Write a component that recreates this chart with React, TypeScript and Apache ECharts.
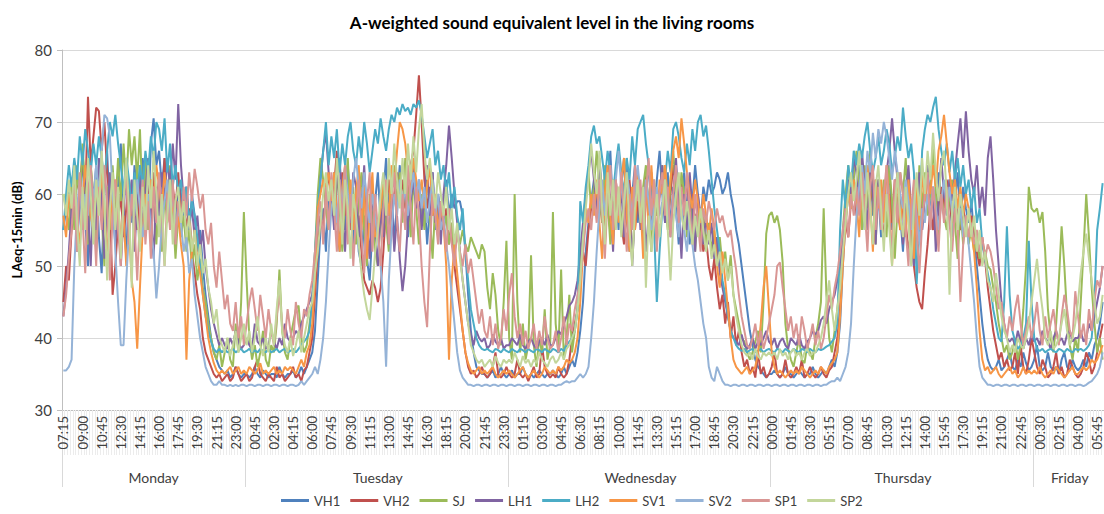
import React, { useEffect, useRef } from "react";
import * as echarts from "echarts";

const TITLE = "A-weighted sound equivalent level in the living rooms";
const Y_NAME = "LAeq-15min (dB)";
const DAYS = ["Monday", "Tuesday", "Wednesday", "Thursday", "Friday"];
const DAY_FIRST_SLOT = [29, 0, 0, 0, 0]; // first 15-min slot of each day (29 = 07:15)
const DAY_SLOT_COUNT = [67, 96, 96, 96, 26];
const Y_TICKS = [30, 40, 50, 60, 70, 80];
const NAMES = ["VH1", "VH2", "SJ", "LH1", "LH2", "SV1", "SV2", "SP1", "SP2"];
const COLORS = ["#4F81BD", "#C0504D", "#9BBB59", "#8064A2", "#4BACC6", "#F79646", "#95B3D7", "#D99694", "#C3D69B"];

const VH1 = [
  55, 58, 61,
  57, 63, 52, 60, 65, 56, 50, 61,
  59, 64, 54, 49, 60, 66, 57, 62,
  55, 61, 67, 58, 51, 62, 56, 64,
  60, 53, 65, 61, 56, 67, 70.5, 64,
  66, 61, 65, 57, 63, 60, 55, 62,
  60, 56, 61, 54, 60, 57, 52, 55,
  50, 46, 43, 40, 38, 37, 36, 35.5,
  35, 35.5, 34.5, 35, 36, 35, 34.5, 35,
  // Tue
  35, 34.5, 35, 36, 35, 34.5, 35.5, 35,
  34.5, 35, 35, 34.5, 36, 35, 34.5, 35,
  35, 35.5, 34.5, 35, 36, 35, 36, 37,
  38, 41, 48, 55, 58, 52, 60, 57,
  63, 57, 52, 61, 55, 64, 58, 53,
  60, 52, 50, 57, 51, 48, 55, 59,
  63, 56, 60, 65, 57, 61, 53, 59,
  64, 57, 61, 54, 60, 65, 58, 62,
  56, 60, 53, 58, 63, 55, 60, 57,
  59, 62, 57, 60, 58, 59, 59, 57,
  52, 46, 41, 38, 36, 35.5, 35, 35,
  34.5, 35, 35.5, 34.5, 35, 36, 35, 34.5,
  // Wed
  35, 35.5, 34.5, 35, 35, 36, 35, 34.5,
  35, 34.5, 35, 35.5, 35, 34.5, 35, 35,
  35.5, 35, 34.5, 35, 36, 35, 36, 37,
  36, 38, 41, 45, 52, 56, 59, 62,
  58, 64, 60, 54, 61, 66, 57, 62,
  55, 61, 65, 57, 52, 60, 64, 56,
  61, 54, 59, 64, 60, 55, 62, 66,
  60, 56, 63, 55, 61, 58, 53, 60,
  63, 57, 53, 59, 64, 60, 56, 61,
  59, 62, 60, 61, 63, 62, 60, 61,
  63, 60, 58, 55, 53, 50, 47, 44,
  41, 39, 37, 36, 35.5, 35, 34.5, 35,
  // Thu
  35, 35.5, 35, 34.5, 35, 36, 35, 35,
  34.5, 35, 35.5, 35, 34.5, 35, 35, 36,
  35, 34.5, 35, 35.5, 35, 36, 37, 36,
  38, 42, 50, 56, 60, 58, 62, 59,
  64, 59, 55, 61, 65, 57, 62, 60,
  54, 61, 58, 64, 55, 60, 63, 57,
  52, 59, 63, 56, 50, 58, 62, 55,
  60, 64, 57, 61, 55, 63, 59, 60,
  57, 62, 54, 59, 63, 56, 61, 58,
  56, 59, 54, 50, 46, 42, 39, 37,
  36, 35.5, 36, 37, 35.5, 36, 37, 38,
  36, 35.5, 37, 36, 38, 36.5, 35.5, 36,
  // Fri
  37, 39, 36, 35.5, 36, 38, 36, 35.5,
  36, 35, 37, 38, 36, 35.5, 37, 36,
  35.5, 36, 37, 36, 38, 37, 39, 40,
  42, 45,
];

const VH2 = [
  45, 50, 48,
  55, 58, 62, 60, 66, 59, 73.5, 64,
  68, 72, 71.5, 66, 70, 63, 59, 46,
  50, 56, 60, 54, 58, 62, 57, 60,
  55, 61, 58, 64, 60, 57, 63, 59,
  62, 58, 65, 60, 56, 61, 58, 63,
  57, 60, 55, 58, 52, 49, 46, 44,
  40, 38, 37, 36, 35, 34.5, 35, 34,
  34.5, 35, 34, 34.5, 36, 35, 34, 34.5,
  // Tue
  35, 34, 34.5, 36, 37, 35, 34.5, 34,
  35, 34.5, 34, 36, 34.5, 35, 34, 34.5,
  35, 36, 34.5, 35, 34, 35.5, 36, 38,
  40, 46, 52, 57, 55, 60, 63, 58,
  61, 66, 59, 63, 57, 60, 55, 58,
  54, 57, 52, 48, 47, 46, 48, 47,
  45, 47, 52, 58, 62, 57, 60, 63,
  59, 62, 58, 60, 64, 66, 71, 76.5,
  70, 62, 58, 61, 57, 60, 56, 59,
  55, 58, 53, 56, 50, 47, 44, 41,
  38, 36, 35, 35.5, 34.5, 35, 36, 35,
  34.5, 35, 36, 38, 35, 34.5, 35, 36,
  // Wed
  35, 34.5, 35, 37, 35, 34.5, 35, 34,
  35, 36, 34.5, 35, 39, 36, 35, 34.5,
  35, 34.5, 36, 35, 34.5, 35, 37, 40,
  42, 44, 48, 52, 50, 55, 58, 60,
  57, 60, 56, 62, 58, 55, 61, 57,
  60, 56, 53, 58, 62, 57, 55, 59,
  56, 60, 63, 58, 55, 61, 57, 60,
  62, 58, 56, 60, 64, 61, 58, 62,
  59, 62, 57, 60, 56, 58, 55, 52,
  54, 50, 48, 51, 47, 44, 46, 42,
  45, 40, 43, 39, 41, 38, 36, 37,
  35, 36, 34.5, 38, 35, 36, 34.5, 35,
  // Thu
  36, 38, 35, 34.5, 35, 37, 35, 34.5,
  35, 36, 35, 37, 34.5, 35, 36, 35,
  34.5, 35, 36, 35, 34.5, 35.5, 36, 38,
  40, 44, 52, 56, 54, 59, 62, 57,
  60, 63, 58, 55, 61, 59, 57, 62,
  58, 54, 57, 60, 56, 62, 58, 55,
  59, 56, 52, 55, 50, 47, 45, 44,
  49, 53, 58, 55, 60, 57, 61, 58,
  62, 59, 56, 60, 57, 55, 58, 56,
  54, 57, 55, 52, 50, 54, 51, 47,
  44, 41, 39, 37, 38, 36, 37, 35.5,
  36, 38, 35, 39, 36, 35, 37, 40,
  // Fri
  38, 36, 35, 37, 36, 34.5, 35, 36,
  38, 35, 36, 34.5, 35, 37, 36, 35,
  34.5, 35, 36, 38, 37, 35, 36, 38,
  40, 42,
];

const SJ = [
  60, 58, 55,
  62, 55, 64, 58, 67, 60, 53, 64,
  60, 52, 63, 57, 50, 61, 55, 64,
  58, 65, 59, 67, 61, 69, 64, 68,
  62, 69, 58, 65, 55, 62, 59, 53,
  61, 52, 60, 56, 64, 58, 51, 57,
  54, 57, 52, 55, 50, 53, 48, 51,
  47, 45, 42, 40, 38, 37, 39, 36,
  38, 40, 37, 36, 42, 38, 45, 57.5,
  // Tue
  48, 40, 37, 39, 36, 38, 41, 37,
  36, 39, 38, 42, 49.5, 41, 38, 37,
  40, 42, 44, 44.5, 40, 38, 39, 42,
  45, 52, 60, 65, 62, 58, 55, 60,
  57, 63, 58, 52, 60, 65, 56, 61,
  53, 59, 63, 55, 50, 60, 57, 52,
  50, 57, 62, 56, 52, 61, 64, 58,
  63, 56, 65, 60, 54, 62, 58, 53,
  60, 55, 63, 57, 51, 59, 54, 58,
  55, 57, 53, 56, 52, 54, 53, 55,
  53, 52, 54, 53, 52, 51, 53, 52,
  47, 44, 49, 46, 41, 39, 45, 53.5,
  // Wed
  40, 37, 60, 45, 38, 42, 37, 39,
  51.5, 39, 36, 40, 38, 44, 37, 39,
  57.5, 42, 38, 49.5, 37, 40, 46, 38,
  41, 44, 50, 55, 60, 63, 58, 61,
  66, 61, 56, 64, 59, 53, 62, 57,
  61, 55, 60, 65, 58, 51, 57, 63,
  56, 61, 64, 58, 52, 62, 57, 60,
  64, 59, 55, 62, 66, 60, 57, 63,
  60, 54, 61, 57, 52, 58, 53, 57,
  53, 56, 52, 55, 51, 54, 50, 52,
  48, 51.5, 46, 44, 42, 40, 39.5, 38,
  37, 38, 39.5, 41, 38, 45, 54.5, 57,
  // Thu
  57.5, 56, 57, 55, 50.5, 42, 38.5, 37,
  36, 38, 40, 37, 36.5, 39, 38, 37,
  40, 42, 45, 58, 46, 40, 38, 41,
  44, 48, 55, 60, 64, 58, 62, 66,
  61, 55, 64, 58, 66, 59, 53, 62,
  57, 62, 54, 64, 59, 51, 58, 63,
  60, 65, 57, 52, 61, 55, 64, 58,
  63, 57, 60, 67, 60, 54, 60, 57,
  55, 60, 62, 56, 51, 58, 53, 57,
  53, 55, 52, 54, 51, 53, 52, 50,
  49.5, 47, 45, 42, 40, 38, 39, 37,
  38, 40, 37, 39, 44, 50, 61, 58,
  // Fri
  57.5, 58, 56, 57.5, 52, 44, 40, 38,
  42, 48, 55.5, 50, 43, 39, 37, 40,
  38, 45, 52, 60, 54, 47, 42, 38,
  40, 37,
];

const LH1 = [
  43, 47, 52,
  58, 63, 53, 60, 56, 64, 58, 50,
  61, 55, 65, 59, 51, 57, 63, 58,
  53, 60, 50, 57, 64, 55, 62, 52,
  59, 63, 55, 60, 65, 57, 51, 61,
  57, 63, 59, 65, 61, 67, 62, 72.5,
  64, 59, 61, 56, 58, 54, 57, 52,
  55, 50, 47, 44, 42, 40.5, 39, 40,
  39, 38.5, 40, 39, 41, 39.5, 38.5, 39,
  // Tue
  40, 39, 38.5, 42, 39.5, 39, 40, 38.5,
  39, 41, 39.5, 38.5, 40, 39, 42, 40,
  39.5, 40, 41, 40.5, 42, 43, 44, 45,
  46, 50, 56, 62, 66, 68.5, 63, 60,
  55, 62, 65, 58, 52, 60, 56, 63,
  61, 54, 58, 64, 56, 51, 61, 55,
  50, 58, 54, 61, 53, 59, 52, 57,
  51, 46.5, 50, 56, 59, 62, 58, 61,
  55, 60, 64, 57, 63, 56, 60, 53,
  60, 64, 69.5, 65, 60, 56, 52, 48,
  45, 42, 40.5, 39, 41, 40, 39.5, 40,
  38.5, 39, 40.5, 39.5, 39, 40, 38.5, 39,
  // Wed
  39, 40, 39.5, 39, 40.5, 39, 38.5, 39.5,
  40, 39, 38.5, 39.5, 40, 39, 40.5, 39,
  39, 40, 41, 40.5, 42, 43, 44.5, 45,
  46, 48, 52, 56, 60, 63, 66, 62,
  58, 65, 60, 53, 63, 59, 52, 62,
  56, 61, 54, 64, 59, 50, 58, 63,
  55, 60, 52, 57, 63, 58, 53, 60,
  64, 56, 61, 54, 60, 65, 58, 51,
  60, 55, 63, 58, 52, 60, 57, 53,
  57, 53, 56, 51, 54, 49, 47, 45,
  43, 41, 40, 39.5, 39, 40.5, 39, 38.5,
  39, 40, 38.5, 39.5, 39, 40, 41, 39.5,
  // Thu
  39, 40, 38.5, 39.5, 40, 39, 38.5, 40,
  39.5, 39, 40.5, 39, 38.5, 39.5, 40, 41,
  40.5, 41, 42.5, 43, 42, 44, 45, 46,
  48, 50, 54, 58, 62, 60, 65, 63,
  58, 66, 61, 55, 64, 60, 53, 62,
  61, 58, 63, 66, 70.5, 66, 62, 59,
  53, 60, 64, 57, 50, 56, 63, 55,
  60, 64, 55, 61, 52, 59, 65, 60,
  58, 62, 59, 63, 67, 70.5, 65, 71.5,
  66, 62, 60, 64, 58, 61, 57, 65,
  68, 62, 55, 50, 45, 42, 40, 39.5,
  40, 39, 41, 39.5, 38.5, 40, 39, 40.5,
  // Fri
  39.5, 40, 39, 41, 40, 39.5, 38.5, 40,
  41, 39.5, 40, 39, 40.5, 41, 39.5, 40,
  40, 41, 39.5, 40, 42, 41, 43, 45,
  47, 50,
];

const LH2 = [
  55, 60, 64,
  61, 65, 62, 68, 64, 69, 66, 63,
  67, 64, 68, 65, 62, 66, 70, 68,
  71, 67, 64, 60, 65, 62, 58, 63,
  60, 64, 61, 66, 63, 68, 65, 70,
  69, 66, 70.5, 63, 67, 61, 64, 60,
  62, 58, 61, 56, 59, 57, 54, 50,
  46, 43, 41, 39.5, 38.5, 38, 38.5, 38,
  38.5, 38, 38.2, 38.5, 38, 38.3, 38.5, 38,
  // Tue
  38.2, 38.5, 38, 38.3, 38, 38.5, 38.2, 38,
  38.5, 38, 38.2, 38.5, 38, 38.3, 38.5, 38,
  38.2, 38.5, 38, 38.5, 39, 39.5, 40, 41,
  45, 52, 58, 62, 66, 70, 64, 68,
  65, 69, 63, 67, 64, 68, 70, 66,
  64, 68, 65, 70, 67, 63, 66, 69,
  67, 70.5, 68, 66, 69, 71, 70, 72,
  71, 72.5, 71.5, 72, 71, 72.5, 72, 73,
  71, 68, 65, 67, 69, 64, 66, 62,
  64, 60, 63, 58, 61, 57, 55, 58,
  52, 48, 44, 42, 40, 39, 38.5, 38.3,
  38.5, 38.2, 38, 38.5, 38.3, 38, 38.5, 38.2,
  // Wed
  38, 38.5, 38.2, 38, 38.5, 38.3, 38, 38.5,
  38.2, 38, 38.5, 38.3, 38, 38.5, 38.2, 38,
  38.5, 38.3, 38, 38.5, 38.2, 39, 39.5, 40,
  41, 44, 59, 56, 61, 64, 68, 69.5,
  67, 68, 65, 62, 66, 63, 60, 64,
  67, 63, 60, 65, 62, 68, 64, 69,
  70, 71, 67, 64, 59, 55, 45, 52,
  58, 62, 66, 63, 69, 70, 68, 65,
  63, 67, 64, 69, 66, 70, 71, 68,
  69.5, 66, 62, 58, 55, 52, 48, 46,
  43, 41, 40, 39, 38.5, 38.2, 38.5, 38,
  38.3, 38.5, 38, 38.2, 38.5, 38, 38.3, 38.5,
  // Thu
  38.2, 38, 38.5, 38.3, 38, 38.5, 38.2, 38,
  38.5, 38.2, 38, 38.5, 38.3, 38, 38.5, 38.2,
  38, 38.5, 38.3, 38.5, 38.8, 39, 39.5, 40,
  42, 55, 62, 58, 64, 61, 66, 64,
  67, 65, 68, 70, 66, 63, 65, 68,
  64, 66, 69, 67, 63, 65, 68, 66,
  72, 68, 65, 67, 63, 47.5, 55, 66,
  69, 71, 70, 72, 73.5, 69, 66, 64,
  67, 63, 66, 62, 65, 61, 64, 60,
  62, 58, 61, 56, 58, 53, 51, 49,
  47, 44, 42, 40, 39.5, 45, 55.5, 46,
  41, 39.5, 38.5, 39, 40, 42, 53.5, 45,
  // Fri
  40, 38.5, 38.2, 38.5, 38, 38.3, 38.5, 38.2,
  38, 38.5, 38.3, 38, 38.5, 38.2, 38, 38.5,
  38.3, 38.5, 38.2, 38.5, 39, 40, 45, 55,
  58, 61.5,
];

const SV1 = [
  57, 54, 60,
  58, 62, 56, 53, 59, 64, 60, 57,
  55, 61, 58, 63, 57, 52, 56, 60,
  62, 58, 54, 57, 50, 55, 48, 45,
  38.5, 47, 55, 60, 57, 62, 59, 64,
  61, 58, 63, 60, 56, 59, 55, 57,
  53, 50, 37, 48, 52, 55, 51, 49,
  46, 43, 40, 38, 36.5, 35.5, 35, 35.5,
  35, 35.5, 36, 35, 35.5, 36, 35, 35.5,
  // Tue
  35, 36, 35.5, 35, 35.5, 36.5, 35, 35.5,
  35, 35.5, 36, 35, 35.5, 35, 36, 35.5,
  36, 35.5, 35, 36, 37, 36, 38, 39,
  42, 48, 58, 60, 62, 61, 63, 59,
  63, 57, 52, 61, 64, 56, 62, 55,
  60, 64, 55, 61, 51, 58, 63, 54,
  55, 58, 62, 60, 57, 64, 61, 66,
  70, 69, 67, 63, 60, 65, 62, 59,
  62, 58, 61, 64, 57, 60, 55, 58,
  56, 50, 37, 48, 53, 49, 45, 41,
  38, 36.5, 35.5, 35, 35.5, 36, 35, 35.5,
  35, 35.5, 36, 35, 34.5, 35, 35.5, 35,
  // Wed
  35.5, 35, 34.5, 35, 35.5, 36, 35, 34.5,
  35, 35.5, 35, 34.5, 35, 36, 35.5, 35,
  35.5, 35, 36, 35.5, 36, 37, 36.5, 37,
  38, 40, 45, 52, 58, 56, 60, 57,
  62, 56, 51, 60, 64, 57, 53, 62,
  56, 62, 65, 57, 52, 61, 55, 63,
  59, 51, 62, 55, 64, 58, 54, 62,
  60, 64, 59, 62, 66, 68, 65, 70.5,
  67, 63, 60, 58, 62, 59, 56, 60,
  57, 54, 58, 55, 50, 47, 52, 48,
  44, 40, 37, 36, 35.5, 35, 35.5, 36,
  35, 35.5, 36, 38, 42, 47, 50, 44,
  // Thu
  38, 36, 35, 35.5, 35, 34.5, 35, 35.5,
  35, 35.5, 35, 36, 35.5, 35, 34.5, 35,
  35.5, 35, 36, 35.5, 35, 36, 36.5, 37,
  38, 43, 50, 56, 60, 58, 62, 59,
  54, 62, 57, 64, 59, 52, 62, 58,
  62, 56, 64, 59, 50, 58, 63, 55,
  60, 54, 62, 57, 51, 61, 55, 63,
  59, 62, 60, 64, 61, 66, 68, 71,
  67, 63, 60, 62, 58, 61, 57, 60,
  58, 55, 52, 47, 41, 37, 35.5, 36,
  35, 35.5, 36, 35, 34.5, 35, 35.5, 36,
  35, 35.5, 34.5, 35, 36, 35, 35.5, 35,
  // Fri
  35.5, 35, 36, 35, 34.5, 35, 35.5, 35,
  36, 35.5, 35, 34.5, 35, 35.5, 36, 35,
  35, 35.5, 36, 35.5, 36, 37, 36.5, 37,
  38, 39,
];

const SV2 = [
  35.5, 35.5, 36,
  37, 50, 58, 62, 55, 60, 57, 63,
  59, 64, 60, 66, 71, 70.5, 68, 60,
  52, 45, 39, 39, 48, 55, 60, 57,
  62, 58, 54, 57, 60, 55, 52, 45.5,
  50, 56, 59, 62, 57, 60, 55, 58,
  56, 52, 54, 49, 51, 46, 43, 40,
  38, 36, 35, 34, 33.5, 33.5, 34, 33.5,
  33.5, 33.3, 33.5, 33.3, 33.5, 33.3, 33.5, 33.5,
  // Tue
  33.3, 33.5, 33.5, 33.3, 33.5, 33.5, 33.3, 33.5,
  33.5, 33.3, 33.5, 33.5, 33.3, 33.5, 33.5, 33.3,
  33.5, 33.5, 33.3, 33.5, 34, 33.5, 34, 34.5,
  35, 36, 35, 37, 40, 45, 52, 58,
  60, 56, 62, 58, 64, 60, 57, 62,
  65, 61, 58, 63, 59, 56, 60, 57,
  54, 50, 45, 36, 48, 55, 60, 57,
  62, 58, 61, 57, 60, 63, 59, 62,
  58, 61, 56, 59, 62, 57, 60, 55,
  57, 53, 50, 46, 42, 38, 35.5, 34.5,
  34, 33.5, 33.5, 33.3, 33.5, 33.5, 33.3, 33.5,
  33.5, 33.3, 33.5, 33.5, 33.3, 33.5, 33.5, 33.3,
  // Wed
  33.5, 33.5, 33.3, 33.5, 33.5, 33.3, 33.5, 33.5,
  33.3, 33.5, 33.5, 33.3, 33.5, 33.5, 33.3, 33.5,
  33.5, 33.3, 33.5, 33.5, 33.8, 34, 33.8, 34,
  34, 34.5, 35, 34.5, 35, 36, 40, 45,
  52, 58, 62, 57, 60, 64, 59, 62,
  66, 61, 58, 63, 60, 57, 61, 64,
  60, 57, 62, 59, 55, 58, 61, 57,
  59, 62, 58, 55, 60, 57, 54, 58,
  55, 52, 57, 53, 50, 48, 45, 42,
  40, 36, 34.5, 34, 36, 35, 34, 33.5,
  33.5, 33.3, 33.5, 33.5, 33.3, 33.5, 33.5, 33.3,
  33.5, 33.5, 33.3, 33.5, 33.5, 33.3, 33.5, 33.5,
  // Thu
  33.3, 33.5, 33.5, 33.3, 33.5, 33.5, 33.3, 33.5,
  33.5, 33.3, 33.5, 33.5, 33.3, 33.5, 33.5, 33.3,
  33.5, 33.5, 33.3, 33.5, 33.5, 33.8, 34, 34,
  34.5, 34, 35, 36, 38, 42, 50, 57,
  61, 64, 60, 66, 63, 68.5, 65, 69,
  67, 70, 68, 65, 62, 66, 63, 60,
  58, 62, 59, 55, 60, 57, 53, 58,
  56, 60, 57, 61, 58, 55, 59, 62,
  58, 61, 57, 60, 55, 58, 54, 57,
  53, 49, 45, 40, 36, 34.5, 34, 33.5,
  33.5, 33.3, 33.5, 33.5, 33.3, 33.5, 33.5, 33.3,
  33.5, 33.5, 33.3, 33.5, 33.5, 33.3, 33.5, 33.5,
  // Fri
  33.3, 33.5, 33.5, 33.3, 33.5, 33.5, 33.3, 33.5,
  33.5, 33.3, 33.5, 33.5, 33.3, 33.5, 33.5, 33.3,
  33.5, 33.5, 33.3, 33.5, 33.8, 34, 34.5, 35,
  36, 38,
];

const SP1 = [
  43, 46, 51,
  55, 61, 52, 63, 57, 49, 60, 64,
  58, 50, 61, 55, 64, 59, 48, 57,
  62, 55, 50, 59, 63, 53, 60, 56,
  48, 57, 62, 53, 59, 51, 61, 56,
  63, 57, 50, 60, 55, 62, 53, 59,
  56, 61, 57, 63, 59, 63.5, 61, 58,
  60, 55, 53, 56, 50, 47, 52, 48,
  44, 46, 42, 41, 45, 40, 43, 39,
  // Tue
  42, 45, 47, 44, 41, 46, 43, 40,
  44, 41, 39, 43, 46, 42, 40, 44,
  41, 39, 45, 42, 40, 44, 43, 46,
  48, 52, 56, 59, 53, 61, 55, 63,
  58, 52, 62, 56, 64, 53, 60, 50,
  57, 62, 54, 49, 59, 63, 52, 60,
  55, 50, 58, 62, 53, 59, 63, 56,
  52, 60, 55, 64, 58, 53, 61, 57,
  50, 45, 41.5, 52, 60, 57, 53, 59,
  56, 52, 58, 53, 50, 55, 52, 50,
  53, 49, 51, 48, 45, 42, 44, 41,
  40, 43, 39, 42, 38.5, 40, 44, 41,
  // Wed
  46, 49, 43, 40, 42, 39, 41, 38.5,
  40, 42, 38.5, 41, 39, 43, 40, 38.5,
  39, 41, 38, 40, 43, 39, 42, 41,
  44, 46, 48, 52, 56, 58, 55, 60,
  56, 62, 57, 51, 60, 64, 55, 62,
  57, 63, 58, 52, 60, 55, 64, 59,
  62, 55, 60, 65, 57, 62, 52, 60,
  63, 57, 61, 54, 60, 64, 56, 61,
  57, 63, 58, 53, 60, 56, 52, 58,
  56, 59, 57, 55, 58, 56, 57, 55,
  54, 55, 52, 49.5, 46, 43, 41, 39,
  38.5, 40, 42, 39, 41, 38.5, 40, 42,
  // Thu
  44, 46, 50, 50.5, 47, 44, 41, 43,
  40, 42, 39, 43, 41, 38.5, 40, 42,
  39, 41, 38.5, 40, 43, 46, 44, 47,
  49, 52, 55, 58, 54, 60, 57, 61,
  57, 63, 58, 52, 61, 64, 55, 61,
  55, 60, 64, 57, 51, 62, 56, 63,
  60, 55, 50, 58, 62, 55, 49, 56,
  60, 63, 55, 61, 57, 52, 60, 56,
  61, 56, 52, 58, 55, 45, 53, 57,
  54, 56, 53, 55, 52, 54, 51, 53,
  52, 50, 47, 44, 45, 42, 40, 43,
  41, 44, 46, 42, 39, 41, 43, 40,
  // Fri
  42, 45, 41, 39, 43, 40, 42, 44,
  41, 39, 43, 46, 44, 41, 40, 46.5,
  43, 40, 42, 39, 44, 41, 45, 48,
  47, 50,
];

const SP2 = [
  60, 57, 62,
  58, 64, 56, 50, 61, 55, 65, 60,
  53, 62, 57, 66, 59, 48, 58, 63,
  55, 61, 51, 59, 65, 58, 47, 62,
  57, 52, 61, 55, 64, 58, 66, 60,
  54, 60, 50, 57, 62, 53, 59, 61,
  56, 59, 54, 57, 52, 55, 50, 53,
  49, 51, 47, 45, 42, 44, 40, 39,
  38, 40, 37.5, 39, 41, 38, 40, 42,
  // Tue
  39, 41, 38, 40, 43, 39, 37.5, 40,
  38, 42, 39, 44, 48, 41, 39, 38,
  40, 37.5, 39, 41, 38, 40, 42, 44,
  45, 49, 52, 56, 60, 63, 59, 62,
  57, 65, 60, 53, 62, 58, 51, 60,
  57, 53, 49, 46, 44, 42.5, 47, 52,
  55, 60, 63, 57, 65, 60, 67, 62,
  58, 65, 60, 67, 62, 68, 63, 69,
  72.5, 66, 62, 65, 61, 58, 63, 60,
  57, 61, 55, 58, 53, 56, 51, 48,
  45, 42, 39, 38, 37, 36.5, 37, 36,
  36.5, 37, 36, 37.5, 36.5, 36, 37, 36.5,
  // Wed
  37, 36.5, 38, 37, 36, 37.5, 36.5, 37,
  36, 37, 36.5, 38, 37, 36.5, 36, 37,
  37.5, 36.5, 37, 38, 37, 38.5, 39, 40,
  41, 44, 48, 54, 58, 62, 67, 63,
  60, 66, 58, 53, 63, 57, 62, 55,
  61, 54, 59, 63, 55, 50, 58, 62,
  56, 61, 47, 57, 52, 56, 60, 54,
  58, 62, 55, 48, 56, 60, 63, 57,
  55, 59, 56, 53, 57, 54, 58, 55,
  52, 55, 51, 53, 50, 52, 49, 51,
  48, 50, 46, 43, 41, 39, 38, 37.5,
  38, 37, 38.5, 37.5, 37, 38, 37.5, 38,
  // Thu
  37.5, 38, 37, 38.5, 37.5, 38, 37, 38,
  38.5, 37.5, 38, 37, 38, 38.5, 37.5, 38,
  38, 39, 40, 42, 45, 48, 44, 41,
  44, 47, 52, 56, 60, 63, 59, 62,
  66, 60, 55, 63, 58, 53, 61, 64,
  58, 52, 60, 55, 50, 58, 63, 57,
  54, 61, 56, 50, 58, 63, 57, 65,
  60, 66, 62, 68.5, 63, 59, 64, 66,
  60, 46, 58, 61, 55, 60, 57, 54,
  58, 54, 57, 52, 55, 50, 52, 48,
  47, 45, 49, 46, 43, 41, 40, 38,
  39, 38, 40, 39, 38.5, 40, 42, 45,
  // Fri
  48, 51, 47, 44, 40, 39, 41, 38.5,
  39, 40, 42, 44, 41, 39, 40, 42,
  45, 49, 52, 54.5, 51, 48, 45, 42,
  43, 46,
];

const SERIES_VALUES = [VH1, VH2, SJ, LH1, LH2, SV1, SV2, SP1, SP2];

const FONT = "Lato, 'Open Sans', sans-serif";

function pad(n: number) {
  return n < 10 ? "0" + n : String(n);
}

export default function App() {
  const ref = useRef<HTMLDivElement>(null);

  useEffect(() => {
    if (!ref.current) return;
    const chart = echarts.init(ref.current, undefined, { renderer: "svg" });

    const categories: string[] = [];
    const boundaries = new Set<number>();
    const centers = new Map<number, string>();
    DAYS.forEach((day, d) => {
      const start = categories.length;
      boundaries.add(start);
      centers.set(start + Math.floor(DAY_SLOT_COUNT[d] / 2), day);
      for (let k = 0; k < DAY_SLOT_COUNT[d]; k++) {
        const s = DAY_FIRST_SLOT[d] + k;
        categories.push(day + " " + pad(Math.floor(s / 4)) + ":" + pad((s % 4) * 15));
      }
    });

    chart.setOption({
      animation: false,
      backgroundColor: "#ffffff",
      textStyle: { fontFamily: FONT },
      title: {
        text: TITLE,
        left: "center",
        top: 9,
        textStyle: { fontFamily: FONT, fontSize: 17, fontWeight: "bold", color: "#000000" },
      },
      legend: {
        data: NAMES,
        left: 276,
        top: 489,
        icon: "rect",
        itemWidth: 28,
        itemHeight: 3,
        itemGap: 10,
        textStyle: { fontFamily: FONT, fontSize: 13, color: "#404040" },
      },
      grid: { left: 62, right: 0, top: 50, bottom: 104 },
      xAxis: [
        {
          type: "category",
          data: categories,
          boundaryGap: true,
          axisLine: { show: true, lineStyle: { color: "#bfbfbf", width: 1 } },
          axisTick: { show: true, interval: 0, length: 45, lineStyle: { color: "#ececec", width: 1 } },
          axisLabel: {
            interval: 6,
            rotate: 90,
            margin: 6,
            fontFamily: FONT,
            fontSize: 13,
            color: "#404040",
            formatter: (v: string) => v.split(" ")[1],
          },
          splitLine: { show: false },
        },
        {
          type: "category",
          data: categories,
          boundaryGap: true,
          position: "bottom",
          axisLine: { show: false },
          axisTick: {
            show: true,
            interval: (i: number) => boundaries.has(i),
            length: 77,
            lineStyle: { color: "#d9d9d9", width: 1 },
          },
          axisLabel: {
            interval: (i: number) => centers.has(i),
            margin: 60,
            fontFamily: FONT,
            fontSize: 14,
            color: "#404040",
            formatter: (v: string) => v.split(" ")[0],
          },
          splitLine: { show: false },
        },
      ],
      yAxis: {
        type: "value",
        min: Y_TICKS[0],
        max: Y_TICKS[Y_TICKS.length - 1],
        interval: 10,
        name: Y_NAME,
        nameLocation: "middle",
        nameGap: 36,
        nameTextStyle: { fontFamily: FONT, fontSize: 13, fontWeight: "bold", color: "#000000" },
        axisLine: { show: true, lineStyle: { color: "#bfbfbf" } },
        axisTick: { show: true, length: 5, lineStyle: { color: "#bfbfbf" } },
        axisLabel: { fontFamily: FONT, fontSize: 15, color: "#404040", margin: 10 },
        splitLine: { show: true, lineStyle: { color: "#d9d9d9", width: 1 } },
      },
      series: NAMES.map((name, i) => ({
        name,
        type: "line",
        data: SERIES_VALUES[i],
        xAxisIndex: 0,
        symbol: "none",
        showSymbol: false,
        lineStyle: { color: COLORS[i], width: 2 },
        itemStyle: { color: COLORS[i] },
      })),
    });

    return () => chart.dispose();
  }, []);

  return (
    <div
      ref={ref}
      style={{ position: "fixed", left: 0, top: 0, width: 1104, height: 514 }}
    />
  );
}
